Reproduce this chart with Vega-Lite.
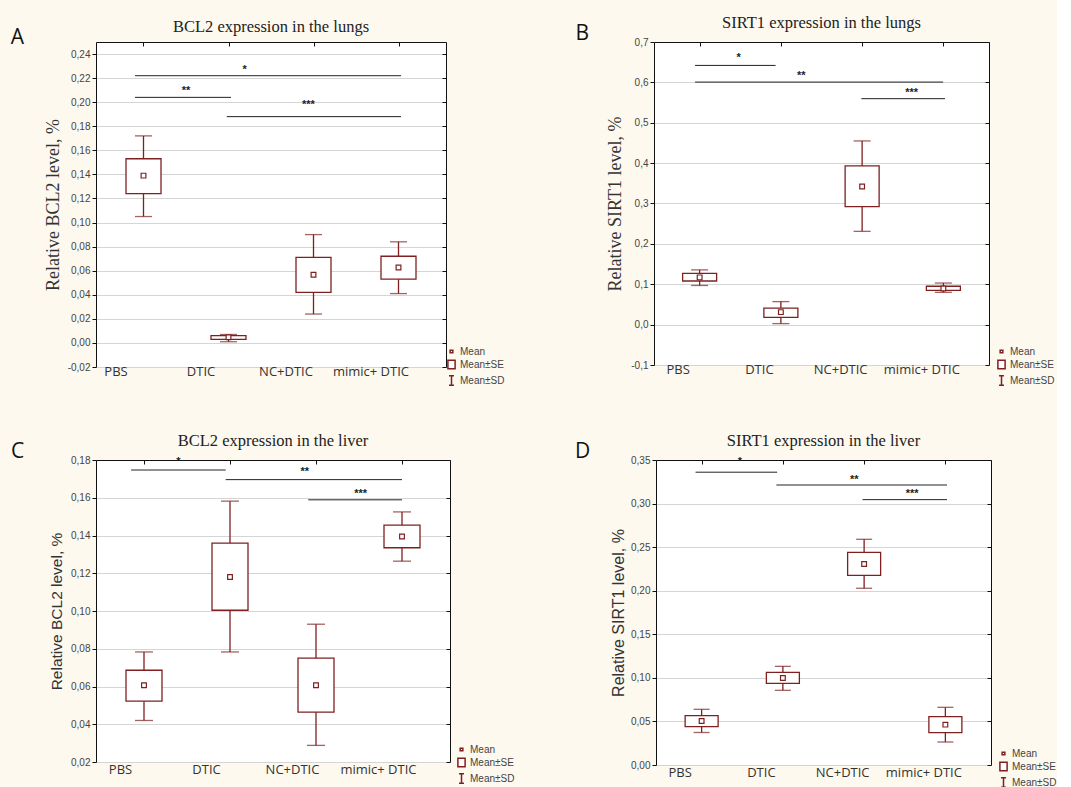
{
  "$schema": "https://vega.github.io/schema/vega-lite/v6.json",
  "background": "#fdf9ef",
  "padding": {"left": 10, "top": 14, "right": 0, "bottom": 0},
  "datasets": {
    "boxes": [
      {"p": "A", "g": "PBS", "i": 1, "sdlo": 0.105, "selo": 0.124, "m": 0.139, "sehi": 0.153, "sdhi": 0.172},
      {"p": "A", "g": "DTIC", "i": 2, "sdlo": 0.001, "selo": 0.003, "m": 0.0047, "sehi": 0.006, "sdhi": 0.007},
      {"p": "A", "g": "NC+DTIC", "i": 3, "sdlo": 0.024, "selo": 0.042, "m": 0.0566, "sehi": 0.071, "sdhi": 0.09},
      {"p": "A", "g": "mimic+ DTIC", "i": 4, "sdlo": 0.041, "selo": 0.053, "m": 0.0627, "sehi": 0.072, "sdhi": 0.084},
      {"p": "B", "g": "PBS", "i": 1, "sdlo": 0.097, "selo": 0.108, "m": 0.117, "sehi": 0.127, "sdhi": 0.1356},
      {"p": "B", "g": "DTIC", "i": 2, "sdlo": 0.0025, "selo": 0.018, "m": 0.031, "sehi": 0.041, "sdhi": 0.057},
      {"p": "B", "g": "NC+DTIC", "i": 3, "sdlo": 0.231, "selo": 0.2925, "m": 0.342, "sehi": 0.393, "sdhi": 0.455},
      {"p": "B", "g": "mimic+ DTIC", "i": 4, "sdlo": 0.08, "selo": 0.085, "m": 0.0896, "sehi": 0.095, "sdhi": 0.103},
      {"p": "C", "g": "PBS", "i": 1, "sdlo": 0.042, "selo": 0.0522, "m": 0.0607, "sehi": 0.0686, "sdhi": 0.0783},
      {"p": "C", "g": "DTIC", "i": 2, "sdlo": 0.0783, "selo": 0.1004, "m": 0.118, "sehi": 0.136, "sdhi": 0.1582},
      {"p": "C", "g": "NC+DTIC", "i": 3, "sdlo": 0.0288, "selo": 0.0464, "m": 0.0607, "sehi": 0.075, "sdhi": 0.093},
      {"p": "C", "g": "mimic+ DTIC", "i": 4, "sdlo": 0.1264, "selo": 0.1335, "m": 0.1395, "sehi": 0.1455, "sdhi": 0.1525},
      {"p": "D", "g": "PBS", "i": 1, "sdlo": 0.0373, "selo": 0.044, "m": 0.0505, "sehi": 0.0566, "sdhi": 0.0639},
      {"p": "D", "g": "DTIC", "i": 2, "sdlo": 0.0857, "selo": 0.0937, "m": 0.0998, "sehi": 0.1064, "sdhi": 0.1132},
      {"p": "D", "g": "NC+DTIC", "i": 3, "sdlo": 0.2028, "selo": 0.2177, "m": 0.2307, "sehi": 0.244, "sdhi": 0.259},
      {"p": "D", "g": "mimic+ DTIC", "i": 4, "sdlo": 0.0264, "selo": 0.0371, "m": 0.0463, "sehi": 0.0555, "sdhi": 0.0662}
    ],
    "sig": [
      {"p": "A", "x1": 0.9, "x2": 4.03, "y": 0.222, "lab": "*", "tx": 2.19, "ty": 0.229},
      {"p": "A", "x1": 0.9, "x2": 2.03, "y": 0.204, "lab": "**", "tx": 1.5, "ty": 0.212},
      {"p": "A", "x1": 1.98, "x2": 4.03, "y": 0.188, "lab": "***", "tx": 2.94, "ty": 0.2},
      {"p": "B", "x1": 0.944, "x2": 1.935, "y": 0.642, "lab": "*", "tx": 1.48, "ty": 0.667},
      {"p": "B", "x1": 0.944, "x2": 3.997, "y": 0.6007, "lab": "**", "tx": 2.25, "ty": 0.623},
      {"p": "B", "x1": 2.99, "x2": 4.02, "y": 0.5596, "lab": "***", "tx": 3.61, "ty": 0.582},
      {"p": "C", "x1": 0.85, "x2": 1.95, "y": 0.1747, "lab": "*", "tx": 1.4, "ty": 0.1803},
      {"p": "C", "x1": 1.95, "x2": 4.0, "y": 0.1696, "lab": "**", "tx": 2.87, "ty": 0.175},
      {"p": "C", "x1": 2.91, "x2": 4.0, "y": 0.1589, "lab": "***", "tx": 3.52, "ty": 0.1634},
      {"p": "D", "x1": 0.925, "x2": 1.93, "y": 0.336, "lab": "*", "tx": 1.47, "ty": 0.351},
      {"p": "D", "x1": 1.92, "x2": 4.02, "y": 0.3213, "lab": "**", "tx": 2.88, "ty": 0.331},
      {"p": "D", "x1": 2.98, "x2": 4.02, "y": 0.3045, "lab": "***", "tx": 3.59, "ty": 0.3145}
    ]
  },
  "resolve": {"scale": {"shape": "independent"}},
  "columns": 2,
  "align": "none",
  "spacing": {"row": 43, "column": 60},
  "concat": [
    {
      "title": {"text": "A", "orient": "left", "angle": 0, "anchor": "end", "font": "Open Sans", "fontSize": 21, "fontWeight": "normal", "color": "#111", "offset": 7, "baseline": "top", "dy": 8, "frame": "bounds"},
      "resolve": {"scale": {"shape": "independent"}},
      "hconcat": [
        {
          "width": 350, "height": 325,
          "title": {"text": "BCL2 expression in the lungs"},
          "resolve": {"axis": {"x": "independent", "y": "independent"}},
          "layer": [
            {"data": {"name": "boxes"}, "transform": [{"filter": "datum.p == 'A'"}],
             "mark": {"type": "rule", "color": "#7f2020", "strokeWidth": 1.3},
             "encoding": {
               "x": {"field": "i", "type": "quantitative", "scale": {"domain": [0.5, 4.5], "nice": false},
                     "axis": {"orient": "bottom", "values": [1, 2, 3, 4], "labelExpr": "['PBS','DTIC','NC+DTIC','mimic+ DTIC'][datum.value - 1]", "domain": false, "ticks": false, "grid": false, "labelFont": "Open Sans", "labelFontSize": 13, "labelColor": "#333", "labelPadding": -2, "labelOffset": -28, "labelFlush": false, "title": null}},
               "y": {"field": "sdlo", "type": "quantitative", "scale": {"domain": [-0.02, 0.25], "nice": false, "zero": false},
                     "axis": {"orient": "left", "values": [-0.02, 0, 0.02, 0.04, 0.06, 0.08, 0.1, 0.12, 0.14, 0.16, 0.18, 0.2, 0.22, 0.24], "labelExpr": "replace(replace(format(datum.value, '.2f'), '.', ','), '−', '-')", "domain": true, "domainColor": "#111", "ticks": true, "tickColor": "#111", "tickSize": 4, "labelFont": "Liberation Sans", "labelFontSize": 10, "labelColor": "#444", "labelPadding": 2, "grid": true, "gridColor": "#d5d5d5", "title": "Relative BCL2 level, %", "titleFont": "Liberation Serif", "titleFontSize": 18, "titleFontWeight": "normal", "titleColor": "#333", "titlePadding": 5}},
               "y2": {"field": "sdhi"}
             }},
            {"data": {"name": "boxes"}, "transform": [{"filter": "datum.p == 'A'"}],
             "mark": {"type": "tick", "orient": "horizontal", "color": "#7f2020", "size": 17, "thickness": 1.3},
             "encoding": {
               "x": {"field": "i", "type": "quantitative", "scale": {"domain": [0.5, 4.5], "nice": false}, "axis": null},
               "y": {"field": "sdlo", "type": "quantitative", "scale": {"domain": [-0.02, 0.25], "nice": false, "zero": false}, "axis": null}
             }},
            {"data": {"name": "boxes"}, "transform": [{"filter": "datum.p == 'A'"}],
             "mark": {"type": "tick", "orient": "horizontal", "color": "#7f2020", "size": 17, "thickness": 1.3},
             "encoding": {
               "x": {"field": "i", "type": "quantitative", "scale": {"domain": [0.5, 4.5], "nice": false}, "axis": null},
               "y": {"field": "sdhi", "type": "quantitative", "scale": {"domain": [-0.02, 0.25], "nice": false, "zero": false}, "axis": null}
             }},
            {"data": {"name": "boxes"}, "transform": [{"filter": "datum.p == 'A'"}],
             "mark": {"type": "bar", "orient": "vertical", "width": 35, "fill": "white", "stroke": "#7f2020", "strokeWidth": 1.3},
             "encoding": {
               "x": {"field": "i", "type": "quantitative", "scale": {"domain": [0.5, 4.5], "nice": false}, "axis": null},
               "y": {"field": "selo", "type": "quantitative", "scale": {"domain": [-0.02, 0.25], "nice": false, "zero": false}, "axis": null},
               "y2": {"field": "sehi"}
             }},
            {"data": {"name": "boxes"}, "transform": [{"filter": "datum.p == 'A'"}],
             "mark": {"type": "point", "filled": true, "fill": "white", "stroke": "#7f2020", "strokeWidth": 1.2, "size": 250, "opacity": 1},
             "encoding": {
               "x": {"field": "i", "type": "quantitative", "scale": {"domain": [0.5, 4.5], "nice": false}, "axis": null},
               "y": {"field": "m", "type": "quantitative", "scale": {"domain": [-0.02, 0.25], "nice": false, "zero": false}, "axis": null},
               "shape": {"datum": "Mean", "type": "nominal",
                 "scale": {"domain": ["Mean", "Mean±SE", "Mean±SD"], "range": ["M-0.3,-0.3H0.3V0.3H-0.3Z", "M-0.8,-0.95H0.8V0.95H-0.8Z", "M-0.55,-1.05H0.55M0,-1.05V1.05M-0.55,1.05H0.55"]},
                 "legend": {"orient": "none", "legendX": 350, "legendY": 304, "title": null, "labelFont": "Liberation Sans", "labelFontSize": 10, "labelColor": "#444", "symbolSize": 81, "rowPadding": 0, "padding": 0, "labelOffset": 3,
                   "encode": {"symbols": {"update": {"stroke": {"value": "#7f2020"}, "fill": {"value": "white"}, "strokeWidth": {"value": 1.2}, "opacity": {"value": 1}}}}}}
             }},
            {"data": {"name": "sig"}, "transform": [{"filter": "datum.p == 'A'"}],
             "mark": {"type": "rule", "color": "#222", "strokeWidth": 1},
             "encoding": {
               "x": {"field": "x1", "type": "quantitative", "scale": {"domain": [0.5, 4.5], "nice": false},
                     "axis": {"orient": "top", "values": [1, 2, 3, 4], "labels": false, "domain": true, "domainColor": "#111", "ticks": true, "tickColor": "#111", "tickSize": -4, "grid": false, "title": null}},
               "x2": {"field": "x2"},
               "y": {"field": "y", "type": "quantitative", "scale": {"domain": [-0.02, 0.25], "nice": false, "zero": false},
                     "axis": {"orient": "right", "values": [-0.02, 0, 0.02, 0.04, 0.06, 0.08, 0.1, 0.12, 0.14, 0.16, 0.18, 0.2, 0.22, 0.24], "labels": false, "domain": true, "domainColor": "#111", "ticks": true, "tickColor": "#111", "tickSize": -4, "grid": false, "title": null}}
             }},
            {"data": {"name": "sig"}, "transform": [{"filter": "datum.p == 'A'"}],
             "mark": {"type": "text", "font": "Liberation Sans", "fontSize": 11, "fontWeight": "bold", "color": "#222", "baseline": "middle", "dy": 3},
             "encoding": {
               "x": {"field": "tx", "type": "quantitative", "scale": {"domain": [0.5, 4.5], "nice": false}, "axis": null},
               "y": {"field": "ty", "type": "quantitative", "scale": {"domain": [-0.02, 0.25], "nice": false, "zero": false}, "axis": null},
               "text": {"field": "lab"}
             }}
          ]
        }
      ]
    },
    {
      "title": {"text": "B", "orient": "left", "angle": 0, "anchor": "end", "font": "Open Sans", "fontSize": 21, "fontWeight": "normal", "color": "#111", "offset": 4, "baseline": "top", "dy": 8, "frame": "bounds"},
      "resolve": {"scale": {"shape": "independent"}},
      "hconcat": [
        {
          "width": 335, "height": 323,
          "title": {"text": "SIRT1 expression in the lungs"},
          "resolve": {"axis": {"x": "independent", "y": "independent"}},
          "layer": [
            {"data": {"name": "boxes"}, "transform": [{"filter": "datum.p == 'B'"}],
             "mark": {"type": "rule", "color": "#7f2020", "strokeWidth": 1.3},
             "encoding": {
               "x": {"field": "i", "type": "quantitative", "scale": {"domain": [0.5, 4.5], "nice": false},
                     "axis": {"orient": "bottom", "values": [1, 2, 3, 4], "labelExpr": "['PBS','DTIC','NC+DTIC','mimic+ DTIC'][datum.value - 1]", "domain": false, "ticks": false, "grid": false, "labelFont": "Open Sans", "labelFontSize": 13, "labelColor": "#333", "labelPadding": -2, "labelOffset": -22, "labelFlush": false, "title": null}},
               "y": {"field": "sdlo", "type": "quantitative", "scale": {"domain": [-0.1, 0.7], "nice": false, "zero": false},
                     "axis": {"orient": "left", "values": [-0.1, 0, 0.1, 0.2, 0.3, 0.4, 0.5, 0.6, 0.7], "labelExpr": "replace(replace(format(datum.value, '.1f'), '.', ','), '−', '-')", "domain": true, "domainColor": "#111", "ticks": true, "tickColor": "#111", "tickSize": 4, "labelFont": "Liberation Sans", "labelFontSize": 10, "labelColor": "#444", "labelPadding": 2, "grid": true, "gridColor": "#d5d5d5", "title": "Relative SIRT1 level, %", "titleFont": "Liberation Serif", "titleFontSize": 18, "titleFontWeight": "normal", "titleColor": "#333", "titlePadding": 6}},
               "y2": {"field": "sdhi"}
             }},
            {"data": {"name": "boxes"}, "transform": [{"filter": "datum.p == 'B'"}],
             "mark": {"type": "tick", "orient": "horizontal", "color": "#7f2020", "size": 17, "thickness": 1.3},
             "encoding": {
               "x": {"field": "i", "type": "quantitative", "scale": {"domain": [0.5, 4.5], "nice": false}, "axis": null},
               "y": {"field": "sdlo", "type": "quantitative", "scale": {"domain": [-0.1, 0.7], "nice": false, "zero": false}, "axis": null}
             }},
            {"data": {"name": "boxes"}, "transform": [{"filter": "datum.p == 'B'"}],
             "mark": {"type": "tick", "orient": "horizontal", "color": "#7f2020", "size": 17, "thickness": 1.3},
             "encoding": {
               "x": {"field": "i", "type": "quantitative", "scale": {"domain": [0.5, 4.5], "nice": false}, "axis": null},
               "y": {"field": "sdhi", "type": "quantitative", "scale": {"domain": [-0.1, 0.7], "nice": false, "zero": false}, "axis": null}
             }},
            {"data": {"name": "boxes"}, "transform": [{"filter": "datum.p == 'B'"}],
             "mark": {"type": "bar", "orient": "vertical", "width": 34, "fill": "white", "stroke": "#7f2020", "strokeWidth": 1.3},
             "encoding": {
               "x": {"field": "i", "type": "quantitative", "scale": {"domain": [0.5, 4.5], "nice": false}, "axis": null},
               "y": {"field": "selo", "type": "quantitative", "scale": {"domain": [-0.1, 0.7], "nice": false, "zero": false}, "axis": null},
               "y2": {"field": "sehi"}
             }},
            {"data": {"name": "boxes"}, "transform": [{"filter": "datum.p == 'B'"}],
             "mark": {"type": "point", "filled": true, "fill": "white", "stroke": "#7f2020", "strokeWidth": 1.2, "size": 250, "opacity": 1},
             "encoding": {
               "x": {"field": "i", "type": "quantitative", "scale": {"domain": [0.5, 4.5], "nice": false}, "axis": null},
               "y": {"field": "m", "type": "quantitative", "scale": {"domain": [-0.1, 0.7], "nice": false, "zero": false}, "axis": null},
               "shape": {"datum": "Mean", "type": "nominal",
                 "scale": {"domain": ["Mean", "Mean±SE", "Mean±SD"], "range": ["M-0.3,-0.3H0.3V0.3H-0.3Z", "M-0.8,-0.95H0.8V0.95H-0.8Z", "M-0.55,-1.05H0.55M0,-1.05V1.05M-0.55,1.05H0.55"]},
                 "legend": {"orient": "none", "legendX": 342, "legendY": 304, "title": null, "labelFont": "Liberation Sans", "labelFontSize": 10, "labelColor": "#444", "symbolSize": 81, "rowPadding": 0, "padding": 0, "labelOffset": 3,
                   "encode": {"symbols": {"update": {"stroke": {"value": "#7f2020"}, "fill": {"value": "white"}, "strokeWidth": {"value": 1.2}, "opacity": {"value": 1}}}}}}
             }},
            {"data": {"name": "sig"}, "transform": [{"filter": "datum.p == 'B'"}],
             "mark": {"type": "rule", "color": "#222", "strokeWidth": 1},
             "encoding": {
               "x": {"field": "x1", "type": "quantitative", "scale": {"domain": [0.5, 4.5], "nice": false},
                     "axis": {"orient": "top", "values": [1, 2, 3, 4], "labels": false, "domain": true, "domainColor": "#111", "ticks": true, "tickColor": "#111", "tickSize": -4, "grid": false, "title": null}},
               "x2": {"field": "x2"},
               "y": {"field": "y", "type": "quantitative", "scale": {"domain": [-0.1, 0.7], "nice": false, "zero": false},
                     "axis": {"orient": "right", "values": [-0.1, 0, 0.1, 0.2, 0.3, 0.4, 0.5, 0.6, 0.7], "labels": false, "domain": true, "domainColor": "#111", "ticks": true, "tickColor": "#111", "tickSize": -4, "grid": false, "title": null}}
             }},
            {"data": {"name": "sig"}, "transform": [{"filter": "datum.p == 'B'"}],
             "mark": {"type": "text", "font": "Liberation Sans", "fontSize": 11, "fontWeight": "bold", "color": "#222", "baseline": "middle", "dy": 3},
             "encoding": {
               "x": {"field": "tx", "type": "quantitative", "scale": {"domain": [0.5, 4.5], "nice": false}, "axis": null},
               "y": {"field": "ty", "type": "quantitative", "scale": {"domain": [-0.1, 0.7], "nice": false, "zero": false}, "axis": null},
               "text": {"field": "lab"}
             }}
          ]
        }
      ]
    },
    {
      "title": {"text": "C", "orient": "left", "angle": 0, "anchor": "end", "font": "Open Sans", "fontSize": 21, "fontWeight": "normal", "color": "#111", "offset": 12, "baseline": "top", "dy": 8, "frame": "bounds"},
      "resolve": {"scale": {"shape": "independent"}},
      "hconcat": [
        {
          "width": 354, "height": 302,
          "title": {"text": "BCL2 expression in the liver"},
          "resolve": {"axis": {"x": "independent", "y": "independent"}},
          "layer": [
            {"data": {"name": "boxes"}, "transform": [{"filter": "datum.p == 'C'"}],
             "mark": {"type": "rule", "color": "#7f2020", "strokeWidth": 1.3},
             "encoding": {
               "x": {"field": "i", "type": "quantitative", "scale": {"domain": [0.5, 4.5], "nice": false},
                     "axis": {"orient": "bottom", "values": [1, 2, 3, 4], "labelExpr": "['PBS','DTIC','NC+DTIC','mimic+ DTIC'][datum.value - 1]", "domain": false, "ticks": false, "grid": false, "labelFont": "Open Sans", "labelFontSize": 13, "labelColor": "#333", "labelPadding": 1, "labelOffset": -24, "labelFlush": false, "title": null}},
               "y": {"field": "sdlo", "type": "quantitative", "scale": {"domain": [0.02, 0.18], "nice": false, "zero": false},
                     "axis": {"orient": "left", "values": [0.02, 0.04, 0.06, 0.08, 0.1, 0.12, 0.14, 0.16, 0.18], "labelExpr": "replace(format(datum.value, '.2f'), '.', ',')", "domain": true, "domainColor": "#111", "ticks": true, "tickColor": "#111", "tickSize": 4, "labelFont": "Liberation Sans", "labelFontSize": 10, "labelColor": "#444", "labelPadding": 2, "grid": true, "gridColor": "#d5d5d5", "title": "Relative BCL2 level, %", "titleFont": "Liberation Sans", "titleFontSize": 15.5, "titleFontWeight": "normal", "titleColor": "#333", "titlePadding": 6}},
               "y2": {"field": "sdhi"}
             }},
            {"data": {"name": "boxes"}, "transform": [{"filter": "datum.p == 'C'"}],
             "mark": {"type": "tick", "orient": "horizontal", "color": "#7f2020", "size": 18, "thickness": 1.3},
             "encoding": {
               "x": {"field": "i", "type": "quantitative", "scale": {"domain": [0.5, 4.5], "nice": false}, "axis": null},
               "y": {"field": "sdlo", "type": "quantitative", "scale": {"domain": [0.02, 0.18], "nice": false, "zero": false}, "axis": null}
             }},
            {"data": {"name": "boxes"}, "transform": [{"filter": "datum.p == 'C'"}],
             "mark": {"type": "tick", "orient": "horizontal", "color": "#7f2020", "size": 18, "thickness": 1.3},
             "encoding": {
               "x": {"field": "i", "type": "quantitative", "scale": {"domain": [0.5, 4.5], "nice": false}, "axis": null},
               "y": {"field": "sdhi", "type": "quantitative", "scale": {"domain": [0.02, 0.18], "nice": false, "zero": false}, "axis": null}
             }},
            {"data": {"name": "boxes"}, "transform": [{"filter": "datum.p == 'C'"}],
             "mark": {"type": "bar", "orient": "vertical", "width": 36, "fill": "white", "stroke": "#7f2020", "strokeWidth": 1.3},
             "encoding": {
               "x": {"field": "i", "type": "quantitative", "scale": {"domain": [0.5, 4.5], "nice": false}, "axis": null},
               "y": {"field": "selo", "type": "quantitative", "scale": {"domain": [0.02, 0.18], "nice": false, "zero": false}, "axis": null},
               "y2": {"field": "sehi"}
             }},
            {"data": {"name": "boxes"}, "transform": [{"filter": "datum.p == 'C'"}],
             "mark": {"type": "point", "filled": true, "fill": "white", "stroke": "#7f2020", "strokeWidth": 1.2, "size": 250, "opacity": 1},
             "encoding": {
               "x": {"field": "i", "type": "quantitative", "scale": {"domain": [0.5, 4.5], "nice": false}, "axis": null},
               "y": {"field": "m", "type": "quantitative", "scale": {"domain": [0.02, 0.18], "nice": false, "zero": false}, "axis": null},
               "shape": {"datum": "Mean", "type": "nominal",
                 "scale": {"domain": ["Mean", "Mean±SE", "Mean±SD"], "range": ["M-0.3,-0.3H0.3V0.3H-0.3Z", "M-0.8,-0.95H0.8V0.95H-0.8Z", "M-0.55,-1.05H0.55M0,-1.05V1.05M-0.55,1.05H0.55"]},
                 "legend": {"orient": "none", "legendX": 360, "legendY": 284, "title": null, "labelFont": "Liberation Sans", "labelFontSize": 10, "labelColor": "#444", "symbolSize": 81, "rowPadding": 0, "padding": 0, "labelOffset": 3,
                   "encode": {"symbols": {"update": {"stroke": {"value": "#7f2020"}, "fill": {"value": "white"}, "strokeWidth": {"value": 1.2}, "opacity": {"value": 1}}}}}}
             }},
            {"data": {"name": "sig"}, "transform": [{"filter": "datum.p == 'C'"}],
             "mark": {"type": "rule", "color": "#222", "strokeWidth": 1},
             "encoding": {
               "x": {"field": "x1", "type": "quantitative", "scale": {"domain": [0.5, 4.5], "nice": false},
                     "axis": {"orient": "top", "values": [1, 2, 3, 4], "labels": false, "domain": true, "domainColor": "#111", "ticks": true, "tickColor": "#111", "tickSize": -4, "grid": false, "title": null}},
               "x2": {"field": "x2"},
               "y": {"field": "y", "type": "quantitative", "scale": {"domain": [0.02, 0.18], "nice": false, "zero": false},
                     "axis": {"orient": "right", "values": [0.02, 0.04, 0.06, 0.08, 0.1, 0.12, 0.14, 0.16, 0.18], "labels": false, "domain": true, "domainColor": "#111", "ticks": true, "tickColor": "#111", "tickSize": -4, "grid": false, "title": null}}
             }},
            {"data": {"name": "sig"}, "transform": [{"filter": "datum.p == 'C'"}],
             "mark": {"type": "text", "font": "Liberation Sans", "fontSize": 11, "fontWeight": "bold", "color": "#222", "baseline": "middle", "dy": 3},
             "encoding": {
               "x": {"field": "tx", "type": "quantitative", "scale": {"domain": [0.5, 4.5], "nice": false}, "axis": null},
               "y": {"field": "ty", "type": "quantitative", "scale": {"domain": [0.02, 0.18], "nice": false, "zero": false}, "axis": null},
               "text": {"field": "lab"}
             }}
          ]
        }
      ]
    },
    {
      "title": {"text": "D", "orient": "left", "angle": 0, "anchor": "end", "font": "Open Sans", "fontSize": 21, "fontWeight": "normal", "color": "#111", "offset": 5, "baseline": "top", "dy": 8, "frame": "bounds"},
      "resolve": {"scale": {"shape": "independent"}},
      "hconcat": [
        {
          "width": 335, "height": 305,
          "title": {"text": "SIRT1 expression in the liver"},
          "resolve": {"axis": {"x": "independent", "y": "independent"}},
          "layer": [
            {"data": {"name": "boxes"}, "transform": [{"filter": "datum.p == 'D'"}],
             "mark": {"type": "rule", "color": "#7f2020", "strokeWidth": 1.3},
             "encoding": {
               "x": {"field": "i", "type": "quantitative", "scale": {"domain": [0.5, 4.5], "nice": false},
                     "axis": {"orient": "bottom", "values": [1, 2, 3, 4], "labelExpr": "['PBS','DTIC','NC+DTIC','mimic+ DTIC'][datum.value - 1]", "domain": false, "ticks": false, "grid": false, "labelFont": "Open Sans", "labelFontSize": 13, "labelColor": "#333", "labelPadding": 1, "labelOffset": -22, "labelFlush": false, "title": null}},
               "y": {"field": "sdlo", "type": "quantitative", "scale": {"domain": [0, 0.35], "nice": false, "zero": false},
                     "axis": {"orient": "left", "values": [0, 0.05, 0.1, 0.15, 0.2, 0.25, 0.3, 0.35], "labelExpr": "replace(format(datum.value, '.2f'), '.', ',')", "domain": true, "domainColor": "#111", "ticks": true, "tickColor": "#111", "tickSize": 4, "labelFont": "Liberation Sans", "labelFontSize": 10, "labelColor": "#444", "labelPadding": 2, "grid": true, "gridColor": "#d5d5d5", "title": "Relative SIRT1 level, %", "titleFont": "Liberation Sans", "titleFontSize": 16, "titleFontWeight": "normal", "titleColor": "#333", "titlePadding": 4}},
               "y2": {"field": "sdhi"}
             }},
            {"data": {"name": "boxes"}, "transform": [{"filter": "datum.p == 'D'"}],
             "mark": {"type": "tick", "orient": "horizontal", "color": "#7f2020", "size": 16, "thickness": 1.3},
             "encoding": {
               "x": {"field": "i", "type": "quantitative", "scale": {"domain": [0.5, 4.5], "nice": false}, "axis": null},
               "y": {"field": "sdlo", "type": "quantitative", "scale": {"domain": [0, 0.35], "nice": false, "zero": false}, "axis": null}
             }},
            {"data": {"name": "boxes"}, "transform": [{"filter": "datum.p == 'D'"}],
             "mark": {"type": "tick", "orient": "horizontal", "color": "#7f2020", "size": 16, "thickness": 1.3},
             "encoding": {
               "x": {"field": "i", "type": "quantitative", "scale": {"domain": [0.5, 4.5], "nice": false}, "axis": null},
               "y": {"field": "sdhi", "type": "quantitative", "scale": {"domain": [0, 0.35], "nice": false, "zero": false}, "axis": null}
             }},
            {"data": {"name": "boxes"}, "transform": [{"filter": "datum.p == 'D'"}],
             "mark": {"type": "bar", "orient": "vertical", "width": 33, "fill": "white", "stroke": "#7f2020", "strokeWidth": 1.3},
             "encoding": {
               "x": {"field": "i", "type": "quantitative", "scale": {"domain": [0.5, 4.5], "nice": false}, "axis": null},
               "y": {"field": "selo", "type": "quantitative", "scale": {"domain": [0, 0.35], "nice": false, "zero": false}, "axis": null},
               "y2": {"field": "sehi"}
             }},
            {"data": {"name": "boxes"}, "transform": [{"filter": "datum.p == 'D'"}],
             "mark": {"type": "point", "filled": true, "fill": "white", "stroke": "#7f2020", "strokeWidth": 1.2, "size": 250, "opacity": 1},
             "encoding": {
               "x": {"field": "i", "type": "quantitative", "scale": {"domain": [0.5, 4.5], "nice": false}, "axis": null},
               "y": {"field": "m", "type": "quantitative", "scale": {"domain": [0, 0.35], "nice": false, "zero": false}, "axis": null},
               "shape": {"datum": "Mean", "type": "nominal",
                 "scale": {"domain": ["Mean", "Mean±SE", "Mean±SD"], "range": ["M-0.3,-0.3H0.3V0.3H-0.3Z", "M-0.8,-0.95H0.8V0.95H-0.8Z", "M-0.55,-1.05H0.55M0,-1.05V1.05M-0.55,1.05H0.55"]},
                 "legend": {"orient": "none", "legendX": 342, "legendY": 288, "title": null, "labelFont": "Liberation Sans", "labelFontSize": 10, "labelColor": "#444", "symbolSize": 81, "rowPadding": 0, "padding": 0, "labelOffset": 3,
                   "encode": {"symbols": {"update": {"stroke": {"value": "#7f2020"}, "fill": {"value": "white"}, "strokeWidth": {"value": 1.2}, "opacity": {"value": 1}}}}}}
             }},
            {"data": {"name": "sig"}, "transform": [{"filter": "datum.p == 'D'"}],
             "mark": {"type": "rule", "color": "#222", "strokeWidth": 1},
             "encoding": {
               "x": {"field": "x1", "type": "quantitative", "scale": {"domain": [0.5, 4.5], "nice": false},
                     "axis": {"orient": "top", "values": [1, 2, 3, 4], "labels": false, "domain": true, "domainColor": "#111", "ticks": true, "tickColor": "#111", "tickSize": -4, "grid": false, "title": null}},
               "x2": {"field": "x2"},
               "y": {"field": "y", "type": "quantitative", "scale": {"domain": [0, 0.35], "nice": false, "zero": false},
                     "axis": {"orient": "right", "values": [0, 0.05, 0.1, 0.15, 0.2, 0.25, 0.3, 0.35], "labels": false, "domain": true, "domainColor": "#111", "ticks": true, "tickColor": "#111", "tickSize": -4, "grid": false, "title": null}}
             }},
            {"data": {"name": "sig"}, "transform": [{"filter": "datum.p == 'D'"}],
             "mark": {"type": "text", "font": "Liberation Sans", "fontSize": 11, "fontWeight": "bold", "color": "#222", "baseline": "middle", "dy": 3},
             "encoding": {
               "x": {"field": "tx", "type": "quantitative", "scale": {"domain": [0.5, 4.5], "nice": false}, "axis": null},
               "y": {"field": "ty", "type": "quantitative", "scale": {"domain": [0, 0.35], "nice": false, "zero": false}, "axis": null},
               "text": {"field": "lab"}
             }}
          ]
        }
      ]
    }
  ],
  "config": {
    "view": {"stroke": null, "fill": "white"},
    "title": {"font": "Liberation Serif", "fontSize": 16.5, "fontWeight": "normal", "color": "#222", "offset": 6, "frame": "group"}
  }
}
